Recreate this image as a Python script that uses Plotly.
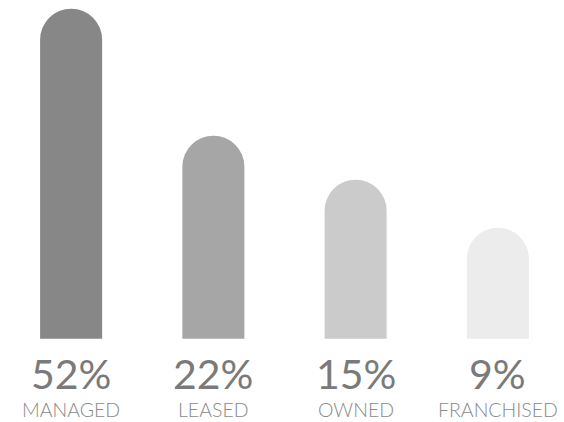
import plotly.graph_objects as go

categories = ["MANAGED", "LEASED", "OWNED", "FRANCHISED"]
pct_labels = ["52%", "22%", "15%", "9%"]
bar_heights = [330, 203, 159, 111]  # visual heights
colors = ["#878787", "#a6a6a6", "#cbcbcb", "#ececec"]

xs = list(range(len(categories)))

fig = go.Figure(go.Bar(
    x=xs, y=bar_heights, width=0.436,
    marker=dict(color=colors, line=dict(width=0), cornerradius=31),
    hoverinfo="skip",
))

for i in xs:
    fig.add_annotation(x=i, y=-35, xref="x", yref="y", text=pct_labels[i],
                       showarrow=False, yanchor="middle", borderpad=0,
                       font=dict(family="Lato", size=41, color="#7a7a7a", weight=400))
    fig.add_annotation(x=i, y=-83.3, xref="x", yref="y", text=categories[i],
                       showarrow=False, yanchor="bottom", borderpad=0,
                       font=dict(family="Lato", size=19.5, color="#8a8a8a", weight=300))

fig.update_layout(
    width=564, height=422,
    margin=dict(l=0, r=0, t=0, b=0),
    paper_bgcolor="white", plot_bgcolor="white",
    showlegend=False,
    xaxis=dict(range=[-0.5, 3.465], visible=False, fixedrange=True),
    yaxis=dict(range=[-83.3, 338.7], visible=False, fixedrange=True),
)

fig.write_html("out.html", config={"displayModeBar": False})
